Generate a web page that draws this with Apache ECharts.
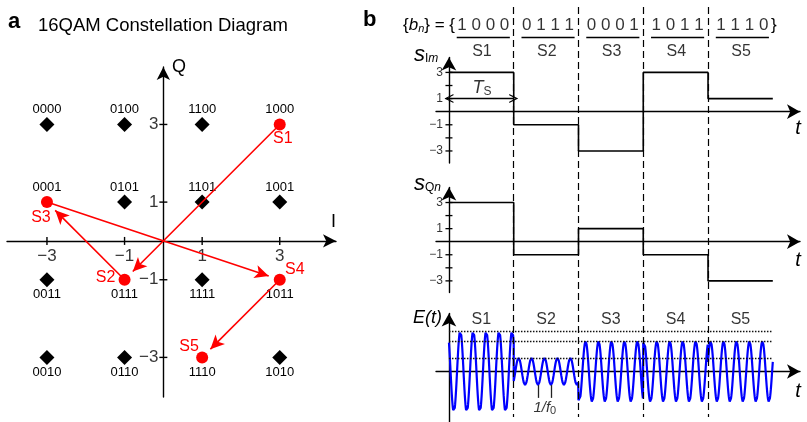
<!DOCTYPE html>
<html>
<head>
<meta charset="utf-8">
<script src="https://cdn.jsdelivr.net/npm/echarts@6/dist/echarts.min.js"></script>
<style>
  html, body { margin: 0; padding: 0; background: #fff; }
  #chart { width: 807px; height: 422px; }
</style>
</head>
<body>
<div id="chart"></div>
<script>
// constellation grid: I levels (columns), Q levels (rows, top to bottom), bit codes
var iLevels = [-3, -1, 1, 3];
var qLevels = [3, 1, -1, -3];
var bitCodes = [
  ['0000', '0100', '1100', '1000'],
  ['0001', '0101', '1101', '1001'],
  ['0011', '0111', '1111', '1011'],
  ['0010', '0110', '1110', '1010']
];

// transmitted symbol sequence
var symbolNames = ['S1', 'S2', 'S3', 'S4', 'S5'];
var symbolBits = ['1 0 0 0', '0 1 1 1', '0 0 0 1', '1 0 1 1', '1 1 1 0'];
var sIn = [3, -1, -3, 3, 1];
var sQn = [3, -1, 1, -1, -3];
var carrierCycles = 5;          // carrier periods per symbol
var periodMarkT = [1.375, 1.575]; // the two troughs marked 1/f0

// tick labels
var iqTicks = [-3, -1, 1, 3];
var stepTicks = [-3, -2, -1, 1, 2, 3];

var BLACK = '#000';
var RED = '#ff0000';
var BLUE = '#0000ff';
var FONT = 'Liberation Sans';

function minus(v) { return String(v).replace('-', '\u2212'); }

function isSent(i, q) {
  return sIn.some(function (a, k) { return a === i && sQn[k] === q; });
}

function axis(grid, min, max, arrowSize) {
  return {
    type: 'value', gridIndex: grid, min: min, max: max,
    axisLine: { onZero: true, symbol: ['none', 'arrow'], symbolSize: arrowSize || [10, 13],
      lineStyle: { color: BLACK, width: 1.4 } },
    axisTick: { show: false },
    splitLine: { show: false },
    axisLabel: { show: false }
  };
}

function stepData(vals) {
  var d = [];
  vals.forEach(function (v, k) { d.push([k, v]); d.push([k + 1, v]); });
  return d;
}

function tickSeries(xi, yi, pts, size) {
  return { type: 'scatter', xAxisIndex: xi, yAxisIndex: yi, symbol: 'rect', silent: true,
    itemStyle: { color: BLACK, opacity: 1 }, z: 5,
    data: pts.map(function (p) { return { value: p, symbolSize: size }; }) };
}

// numeric tick labels placed through the axis scales
function tickLabels(xi, yi, pts, size, offset, align) {
  return { type: 'scatter', xAxisIndex: xi, yAxisIndex: yi, symbolSize: 0, silent: true,
    data: pts.map(function (p) { return { value: p, name: minus(p[0] === 0 ? p[1] : p[0]) }; }),
    label: { show: true, position: 'inside', formatter: '{b}', color: BLACK, fontSize: size,
      fontFamily: FONT, offset: offset, align: align } };
}

var lineOff = { show: false };

// constellation points
var constPts = [];
qLevels.forEach(function (q, r) {
  iLevels.forEach(function (i, c) {
    constPts.push({ name: bitCodes[r][c], value: [i, q],
      symbolSize: isSent(i, q) ? 0 : 15,
      label: { offset: [0, q > 0 ? -15 : 15] } });
  });
});

// red symbol labels and path arrows
var redOffsets = [[3, 14], [-19, -2], [-6, 15], [15, -10], [-13, -11]];
var redPts = sIn.map(function (a, k) {
  return { name: symbolNames[k], value: [a, sQn[k]], label: { offset: redOffsets[k] } };
});
var redArrows = [];
for (var k = 0; k < sIn.length - 1; k++) {
  var p = [sIn[k], sQn[k]], q = [sIn[k + 1], sQn[k + 1]];
  var dx = q[0] - p[0], dy = q[1] - p[1], len = Math.sqrt(dx * dx + dy * dy);
  redArrows.push([{ coord: p }, { coord: [q[0] - dx / len * 0.3, q[1] - dy / len * 0.3] }]);
}

// modulated carrier E(t) = sI cos(wt) - sQ sin(wt)
var wave = [];
var perSym = 200;
sIn.forEach(function (a, k) {
  var b = sQn[k];
  for (var j = 0; j <= perSym; j++) {
    var t = k + j / perSym;
    var ph = 2 * Math.PI * carrierCycles * t;
    wave.push([t, a * Math.cos(ph) - b * Math.sin(ph)]);
  }
});
var levels = [];
sIn.forEach(function (a, k) {
  var amp = Math.round(Math.sqrt(a * a + sQn[k] * sQn[k]) * 1000) / 1000;
  if (levels.indexOf(amp) < 0) levels.push(amp);
});
var s2Amp = Math.sqrt(sIn[1] * sIn[1] + sQn[1] * sQn[1]);

var chevron = 'path://M0,10 L5,0 L10,10 L8.6,10 L5,3 L1.4,10 Z';

var tMin = -0.2, tMax = 5.42;
var nSym = sIn.length;

function grid(l, t, w, h) {
  return { left: l, top: t, width: w, height: h, containLabel: false, outerBoundsMode: 'none' };
}

var option = {
  animation: false,
  backgroundColor: '#fff',
  textStyle: { fontFamily: FONT },
  grid: [
    grid(7, 67, 329, 330),
    grid(436, 57.5, 364, 105.5),
    grid(436, 187.5, 364, 105),
    grid(436, 313.5, 364, 110.5),
    grid(436, 0, 364, 422)
  ],
  xAxis: [
    axis(0, -4.03, 4.45),
    axis(1, tMin, tMax, [11, 13]),
    axis(2, tMin, tMax, [11, 13]),
    axis(3, tMin, tMax, [11, 13]),
    { type: 'value', gridIndex: 4, min: tMin, max: tMax, show: false }
  ],
  yAxis: [
    axis(0, -4.02, 4.48),
    axis(1, -3.92, 4.14, [11, 13]),
    axis(2, -3.89, 4.15, [11, 13]),
    axis(3, -5.47, 6.04, [11, 13]),
    { type: 'value', gridIndex: 4, min: 0, max: 422, inverse: true, show: false }
  ],
  series: [
    // constellation points with bit codes
    {
      type: 'scatter', xAxisIndex: 0, yAxisIndex: 0, symbol: 'diamond', silent: true,
      itemStyle: { color: BLACK, opacity: 1 }, data: constPts,
      label: { show: true, position: 'inside', formatter: '{b}', color: BLACK, fontSize: 13, fontFamily: FONT }
    },
    tickSeries(0, 0, iqTicks.map(function (v) { return [v, 0]; }), [1.4, 8]),
    tickSeries(0, 0, iqTicks.map(function (v) { return [0, v]; }), [8, 1.4]),
    tickLabels(0, 0, iqTicks.map(function (v) { return [v, 0]; }), 17, [0, 15], 'center'),
    tickLabels(0, 0, iqTicks.map(function (v) { return [0, v]; }), 17, [-5, 0], 'right'),
    // transmitted symbols and transitions
    {
      type: 'scatter', xAxisIndex: 0, yAxisIndex: 0, symbol: 'circle', symbolSize: 12, silent: true, z: 6,
      itemStyle: { color: RED, opacity: 1 }, data: redPts,
      label: { show: true, position: 'inside', formatter: '{b}', color: RED, fontSize: 16, fontFamily: FONT },
      markLine: {
        silent: true, symbol: ['none', 'arrow'], symbolSize: [10, 14], label: lineOff,
        lineStyle: { color: RED, width: 1.6, type: 'solid' }, data: redArrows
      }
    },
    // s_In
    {
      type: 'line', xAxisIndex: 1, yAxisIndex: 1, data: stepData(sIn), showSymbol: false, silent: true,
      lineStyle: { color: BLACK, width: 1.6 },
      markLine: {
        silent: true, symbol: [chevron, chevron], symbolSize: [9, 9], label: lineOff,
        lineStyle: { color: BLACK, width: 1.3, type: 'solid' },
        data: [[{ coord: [0, 1] }, { coord: [1, 1] }]]
      }
    },
    tickSeries(1, 1, stepTicks.map(function (v) { return [0, v]; }), [7, 1.3]),
    tickLabels(1, 1, iqTicks.map(function (v) { return [0, v]; }), 12, [-6, 0], 'right'),
    {
      type: 'scatter', xAxisIndex: 1, yAxisIndex: 1, symbolSize: 0, silent: true,
      data: [{ value: [0.51, 1.81], name: 'Ts' }],
      label: {
        show: true, position: 'inside', color: BLACK, fontFamily: FONT,
        formatter: '{it|T}{sub|S}',
        rich: { it: { fontStyle: 'italic', fontSize: 18, color: BLACK },
          sub: { fontSize: 12, padding: [8, 0, 0, 0], color: BLACK } }
      }
    },
    // s_Qn
    {
      type: 'line', xAxisIndex: 2, yAxisIndex: 2, data: stepData(sQn), showSymbol: false, silent: true,
      lineStyle: { color: BLACK, width: 1.6 }
    },
    tickSeries(2, 2, stepTicks.map(function (v) { return [0, v]; }), [7, 1.3]),
    tickLabels(2, 2, iqTicks.map(function (v) { return [0, v]; }), 12, [-6, 0], 'right'),
    // E(t)
    {
      type: 'line', xAxisIndex: 3, yAxisIndex: 3, data: wave, showSymbol: false, silent: true, sampling: null,
      lineStyle: { color: BLUE, width: 2.2 }, z: 4,
      markLine: {
        silent: true, symbol: 'none', label: lineOff,
        data: levels.map(function (lv) {
          return [{ coord: [0, lv], lineStyle: { type: [1.5, 1.5], color: '#111', width: 1.4 } },
            { coord: [nSym, lv] }];
        }).concat(periodMarkT.map(function (t) {
          return [{ coord: [t, -s2Amp], lineStyle: { type: 'solid', color: '#222', width: 1.3 } },
            { coord: [t, -2.75] }];
        }))
      }
    },
    {
      type: 'scatter', xAxisIndex: 3, yAxisIndex: 3, symbolSize: 0, silent: true,
      data: [{ value: [1.48, -3.8], name: 'f0' }],
      label: {
        show: true, position: 'inside', color: BLACK, fontFamily: FONT,
        formatter: '{it|1/f}{sub|0}',
        rich: { it: { fontStyle: 'italic', fontSize: 15, color: BLACK },
          sub: { fontSize: 11, padding: [7, 0, 0, 0], color: BLACK } }
      }
    },
    // header bits, symbol names and slot boundaries
    {
      type: 'scatter', xAxisIndex: 4, yAxisIndex: 4, symbolSize: 0, silent: true,
      data: symbolBits.map(function (b, k) { return { value: [k + 0.53, 25], name: b }; }),
      label: { show: true, position: 'inside', formatter: '{b}', color: BLACK, fontSize: 17, fontFamily: FONT },
      markLine: {
        silent: true, symbol: 'none', label: lineOff,
        lineStyle: { color: BLACK, width: 1.3, type: 'solid' },
        data: symbolBits.map(function (b, k) {
          return [{ coord: [k + 0.12, 37] }, { coord: [k + 0.94, 37] }];
        }).concat([1, 2, 3, 4].map(function (t) {
          return [{ coord: [t, 7], lineStyle: { type: [7, 4], color: BLACK, width: 1.2 } }, { coord: [t, 417] }];
        }))
      }
    },
    {
      type: 'scatter', xAxisIndex: 4, yAxisIndex: 4, symbolSize: 0, silent: true,
      data: symbolNames.map(function (s, k) { return { value: [k + 0.51, 52], name: s }; })
        .concat(symbolNames.map(function (s, k) { return { value: [k + 0.5, 320], name: s }; })),
      label: { show: true, position: 'inside', formatter: '{b}', color: BLACK, fontSize: 16, fontFamily: FONT }
    }
  ],
  graphic: [
    { type: 'text', x: 8, y: 22, style: { text: 'a', font: 'bold 22px "Liberation Sans"', fill: BLACK, verticalAlign: 'middle' } },
    { type: 'text', x: 38, y: 26, style: { text: '16QAM Constellation Diagram', font: '18.5px "Liberation Sans"', fill: BLACK, verticalAlign: 'middle' } },
    { type: 'text', x: 363, y: 20, style: { text: 'b', font: 'bold 22px "Liberation Sans"', fill: BLACK, verticalAlign: 'middle' } },
    { type: 'text', x: 172, y: 67, style: { text: 'Q', font: '18px "Liberation Sans"', fill: BLACK, verticalAlign: 'middle' } },
    { type: 'text', x: 331, y: 222, style: { text: 'I', font: '18px "Liberation Sans"', fill: BLACK, verticalAlign: 'middle' } },
    { type: 'text', x: 455, y: 25, style: {
      text: '{{it|b}{sub|n}} = {', font: '17px "Liberation Sans"', fill: BLACK, align: 'right', verticalAlign: 'middle',
      rich: { it: { fontStyle: 'italic', fontSize: 17, fontFamily: FONT, fill: BLACK },
        sub: { fontStyle: 'italic', fontSize: 11, fontFamily: FONT, fill: BLACK, padding: [8, 0, 0, 0] } } } },
    { type: 'text', x: 771, y: 25, style: { text: '}', font: '17px "Liberation Sans"', fill: BLACK, verticalAlign: 'middle' } },
    { type: 'text', x: 414, y: 55, style: {
      text: '{s|s}{sub|I}{subIt|m}', fill: BLACK, verticalAlign: 'middle',
      rich: { s: { fontStyle: 'italic', fontSize: 22, fontFamily: FONT, fill: BLACK },
        sub: { fontSize: 12, fontFamily: FONT, fill: BLACK, padding: [8, 0, 0, 0] },
        subIt: { fontStyle: 'italic', fontSize: 12, fontFamily: FONT, fill: BLACK, padding: [8, 0, 0, 0] } } } },
    { type: 'text', x: 414, y: 184, style: {
      text: '{s|s}{sub|Q}{subIt|n}', fill: BLACK, verticalAlign: 'middle',
      rich: { s: { fontStyle: 'italic', fontSize: 22, fontFamily: FONT, fill: BLACK },
        sub: { fontSize: 12, fontFamily: FONT, fill: BLACK, padding: [8, 0, 0, 0] },
        subIt: { fontStyle: 'italic', fontSize: 12, fontFamily: FONT, fill: BLACK, padding: [8, 0, 0, 0] } } } },
    { type: 'text', x: 442, y: 318, style: { text: 'E(t)', font: 'italic 18px "Liberation Sans"', fill: BLACK, align: 'right', verticalAlign: 'middle' } },
    { type: 'text', x: 798, y: 128, style: { text: 't', font: 'italic 20px "Liberation Sans"', fill: BLACK, align: 'center', verticalAlign: 'middle' } },
    { type: 'text', x: 798, y: 260, style: { text: 't', font: 'italic 20px "Liberation Sans"', fill: BLACK, align: 'center', verticalAlign: 'middle' } },
    { type: 'text', x: 798, y: 391, style: { text: 't', font: 'italic 20px "Liberation Sans"', fill: BLACK, align: 'center', verticalAlign: 'middle' } }
  ]
};

var chart = echarts.init(document.getElementById('chart'));
chart.setOption(option);
</script>
</body>
</html>
